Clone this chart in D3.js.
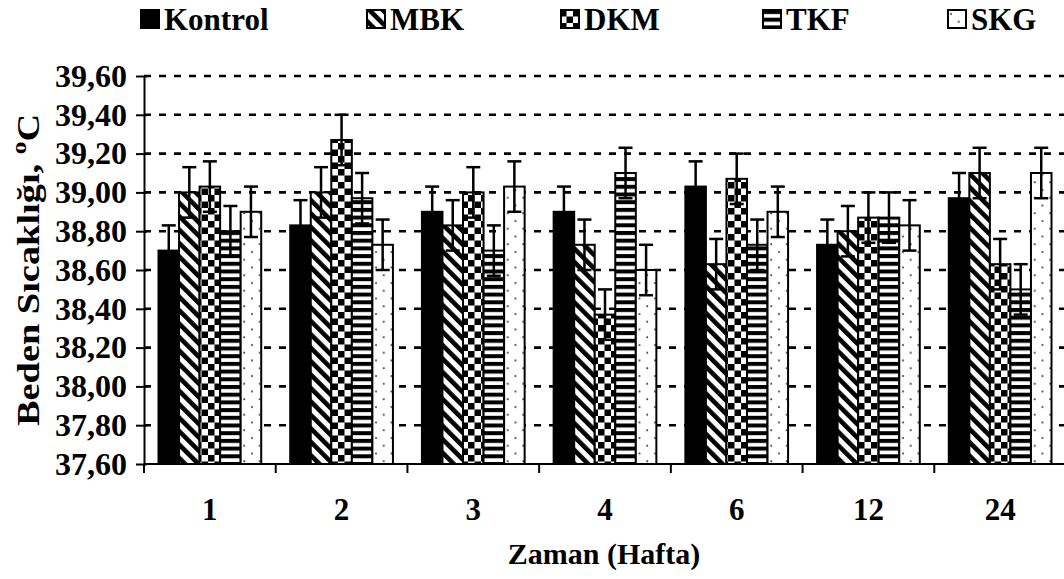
<!DOCTYPE html>
<html>
<head>
<meta charset="utf-8">
<script src="https://cdn.jsdelivr.net/npm/d3@7/dist/d3.min.js"></script>
<style>
  html, body { margin: 0; padding: 0; background: #fff; }
  svg { display: block; }
  text { font-family: "Liberation Serif", "Times New Roman", serif; font-weight: bold; fill: #000; }
</style>
</head>
<body>
<svg id="chart" width="1064" height="579"></svg>
<script>
// ---- data ----
const categories = ["1", "2", "3", "4", "6", "12", "24"];
const seriesNames = ["Kontrol", "MBK", "DKM", "TKF", "SKG"];
const kontrol = [38.70, 38.83, 38.90, 38.90, 39.03, 38.73, 38.97];
const mbk     = [39.00, 39.00, 38.83, 38.73, 38.63, 38.80, 39.10];
const dkm     = [39.03, 39.27, 39.00, 38.37, 39.07, 38.87, 38.63];
const tkf     = [38.80, 38.97, 38.70, 39.10, 38.73, 38.87, 38.50];
const skg     = [38.90, 38.73, 39.03, 38.60, 38.90, 38.83, 39.10];
const kontrolErr = [0.13, 0.13, 0.13, 0.13, 0.13, 0.13, 0.13];
const mbkErr     = [0.13, 0.13, 0.13, 0.13, 0.13, 0.13, 0.13];
const dkmErr     = [0.13, 0.13, 0.13, 0.13, 0.13, 0.13, 0.13];
const tkfErr     = [0.13, 0.13, 0.13, 0.13, 0.13, 0.13, 0.13];
const skgErr     = [0.13, 0.13, 0.13, 0.13, 0.13, 0.13, 0.13];
const yTickValues = [37.6, 37.8, 38.0, 38.2, 38.4, 38.6, 38.8, 39.0, 39.2, 39.4, 39.6];
const yTickLabels = ["37,60", "37,80", "38,00", "38,20", "38,40", "38,60", "38,80", "39,00", "39,20", "39,40", "39,60"];
const yTitle = "Beden Sıcaklığı, ";
const yTitleSup = "o";
const yTitleEnd = "C";
const xTitle = "Zaman (Hafta)";

const seriesValues = [kontrol, mbk, dkm, tkf, skg];
const seriesErrors = [kontrolErr, mbkErr, dkmErr, tkfErr, skgErr];

// ---- layout ----
const svg = d3.select("#chart");
const plotLeft = 144, plotRight = 1066, plotTop = 76, plotBottom = 464;
const x0 = d3.scaleBand().domain(categories).range([plotLeft, plotRight]).paddingInner(0).paddingOuter(0);
const bw = x0.bandwidth();
const x1 = d3.scaleBand().domain(seriesNames).range([14.5, bw - 14.5]).padding(0);
const y = d3.scaleLinear().domain([37.6, 39.6]).range([plotBottom, plotTop]);

// ---- patterns ----
const defs = svg.append("defs");
const patId = {};
seriesNames.forEach((s, i) => patId[s] = "pat" + i);

(function () { // MBK: downward diagonal stripes
  const p = defs.append("pattern").attr("id", patId["MBK"]).attr("patternUnits", "userSpaceOnUse")
    .attr("width", 9.5).attr("height", 9.5).attr("patternTransform", "rotate(-45)");
  p.append("rect").attr("width", 9.5).attr("height", 9.5).attr("fill", "#fff");
  p.append("rect").attr("x", 0).attr("y", 0).attr("width", 4.6).attr("height", 9.5).attr("fill", "#000");
})();
(function () { // DKM: checkerboard
  const c = 6.5;
  const p = defs.append("pattern").attr("id", patId["DKM"]).attr("patternUnits", "userSpaceOnUse")
    .attr("width", 2 * c).attr("height", 2 * c);
  p.append("rect").attr("width", 2 * c).attr("height", 2 * c).attr("fill", "#fff");
  p.append("rect").attr("x", 0).attr("y", 0).attr("width", c).attr("height", c).attr("fill", "#000");
  p.append("rect").attr("x", c).attr("y", c).attr("width", c).attr("height", c).attr("fill", "#000");
})();
(function () { // TKF: horizontal stripes
  const p = defs.append("pattern").attr("id", patId["TKF"]).attr("patternUnits", "userSpaceOnUse")
    .attr("width", 8).attr("height", 7.7);
  p.append("rect").attr("width", 8).attr("height", 7.7).attr("fill", "#fff");
  p.append("rect").attr("x", 0).attr("y", 0).attr("width", 8).attr("height", 4).attr("fill", "#000");
})();
(function () { // SKG: sparse dots
  const p = defs.append("pattern").attr("id", patId["SKG"]).attr("patternUnits", "userSpaceOnUse")
    .attr("width", 15.5).attr("height", 15.5);
  p.append("rect").attr("width", 15.5).attr("height", 15.5).attr("fill", "#fff");
  p.append("circle").attr("cx", 4).attr("cy", 4).attr("r", 1).attr("fill", "#444");
  p.append("circle").attr("cx", 11.75).attr("cy", 11.75).attr("r", 1).attr("fill", "#444");
})();
const fillFor = s => s === "Kontrol" ? "#000" : `url(#${patId[s]})`;

// ---- gridlines ----
svg.append("g").selectAll("line").data(yTickValues.slice(1)).join("line")
  .attr("x1", plotLeft).attr("x2", 1064)
  .attr("y1", d => y(d)).attr("y2", d => y(d))
  .attr("stroke", "#000").attr("stroke-width", 2.6).attr("stroke-dasharray", "7,8");

// ---- bars ----
const flat = [];
categories.forEach((c, ci) => {
  seriesNames.forEach((s, si) => {
    flat.push({ cat: c, series: s, value: seriesValues[si][ci], err: seriesErrors[si][ci] });
  });
});

svg.append("g").selectAll("rect").data(flat).join("rect")
  .attr("x", d => x0(d.cat) + x1(d.series))
  .attr("y", d => y(d.value))
  .attr("width", x1.bandwidth())
  .attr("height", d => y(37.6) - y(d.value))
  .attr("fill", d => fillFor(d.series))
  .attr("stroke", "#000").attr("stroke-width", 2);

// ---- error bars ----
const errG = svg.append("g").attr("stroke", "#000").attr("stroke-width", 2.5);
const cx = d => x0(d.cat) + x1(d.series) + x1.bandwidth() / 2;
const capW = 7;
errG.selectAll("line.v").data(flat).join("line").attr("class", "v")
  .attr("x1", cx).attr("x2", cx)
  .attr("y1", d => y(d.value - d.err)).attr("y2", d => y(d.value + d.err));
errG.selectAll("line.t").data(flat).join("line").attr("class", "t")
  .attr("x1", d => cx(d) - capW).attr("x2", d => cx(d) + capW)
  .attr("y1", d => y(d.value + d.err)).attr("y2", d => y(d.value + d.err));
errG.selectAll("line.b").data(flat).join("line").attr("class", "b")
  .attr("x1", d => cx(d) - capW).attr("x2", d => cx(d) + capW)
  .attr("y1", d => y(d.value - d.err)).attr("y2", d => y(d.value - d.err));

// ---- y axis ----
const yAxis = d3.axisLeft(y).tickValues(yTickValues)
  .tickFormat((d, i) => yTickLabels[i]).tickSizeInner(8).tickSizeOuter(0).tickPadding(9);
const yg = svg.append("g").attr("transform", `translate(${plotLeft},0)`).call(yAxis);
yg.select(".domain").attr("stroke", "#000").attr("stroke-width", 2);
yg.selectAll(".tick line").attr("x1", 3).attr("stroke", "#000").attr("stroke-width", 2);
yg.selectAll(".tick text").attr("font-size", 32).attr("font-family", "Liberation Serif").attr("font-weight", "bold").attr("fill", "#000");

// ---- x axis ----
const xAxis = d3.axisBottom(x0).tickSize(0).tickPadding(34);
const xg = svg.append("g").attr("transform", `translate(0,${plotBottom})`).call(xAxis);
xg.select(".domain").remove();
xg.selectAll(".tick text").attr("font-size", 31).attr("font-family", "Liberation Serif").attr("font-weight", "bold").attr("fill", "#000");
svg.append("line").attr("x1", plotLeft).attr("x2", 1064).attr("y1", plotBottom).attr("y2", plotBottom)
  .attr("stroke", "#000").attr("stroke-width", 2);
const boundaries = categories.map(c => x0(c));
svg.append("g").selectAll("line").data(boundaries).join("line")
  .attr("x1", d => d).attr("x2", d => d).attr("y1", plotBottom).attr("y2", plotBottom + 9)
  .attr("stroke", "#000").attr("stroke-width", 2);

// ---- titles ----
svg.append("text").attr("x", (plotLeft + 1064) / 2).attr("y", 564).attr("text-anchor", "middle")
  .attr("font-size", 30).text(xTitle);
const yt = svg.append("text").attr("transform", `translate(39,${(plotTop + plotBottom) / 2}) rotate(-90) scale(1.2,1)`)
  .attr("text-anchor", "middle").attr("font-size", 32);
yt.append("tspan").text(yTitle);
yt.append("tspan").attr("font-size", 21).attr("dy", -13).text(yTitleSup);
yt.append("tspan").attr("dy", 13).text(yTitleEnd);

// ---- legend ----
const legendX = [140, 366, 560, 762, 947];
const lg = svg.append("g").selectAll("g").data(seriesNames).join("g")
  .attr("transform", (d, i) => `translate(${legendX[i]},10)`);
lg.append("rect").attr("x", 1).attr("y", 0).attr("width", 18).attr("height", 18)
  .attr("fill", d => fillFor(d)).attr("stroke", "#000").attr("stroke-width", 2);
lg.append("text").attr("x", 24).attr("y", 20).attr("font-size", 31).text(d => d);
</script>
</body>
</html>
